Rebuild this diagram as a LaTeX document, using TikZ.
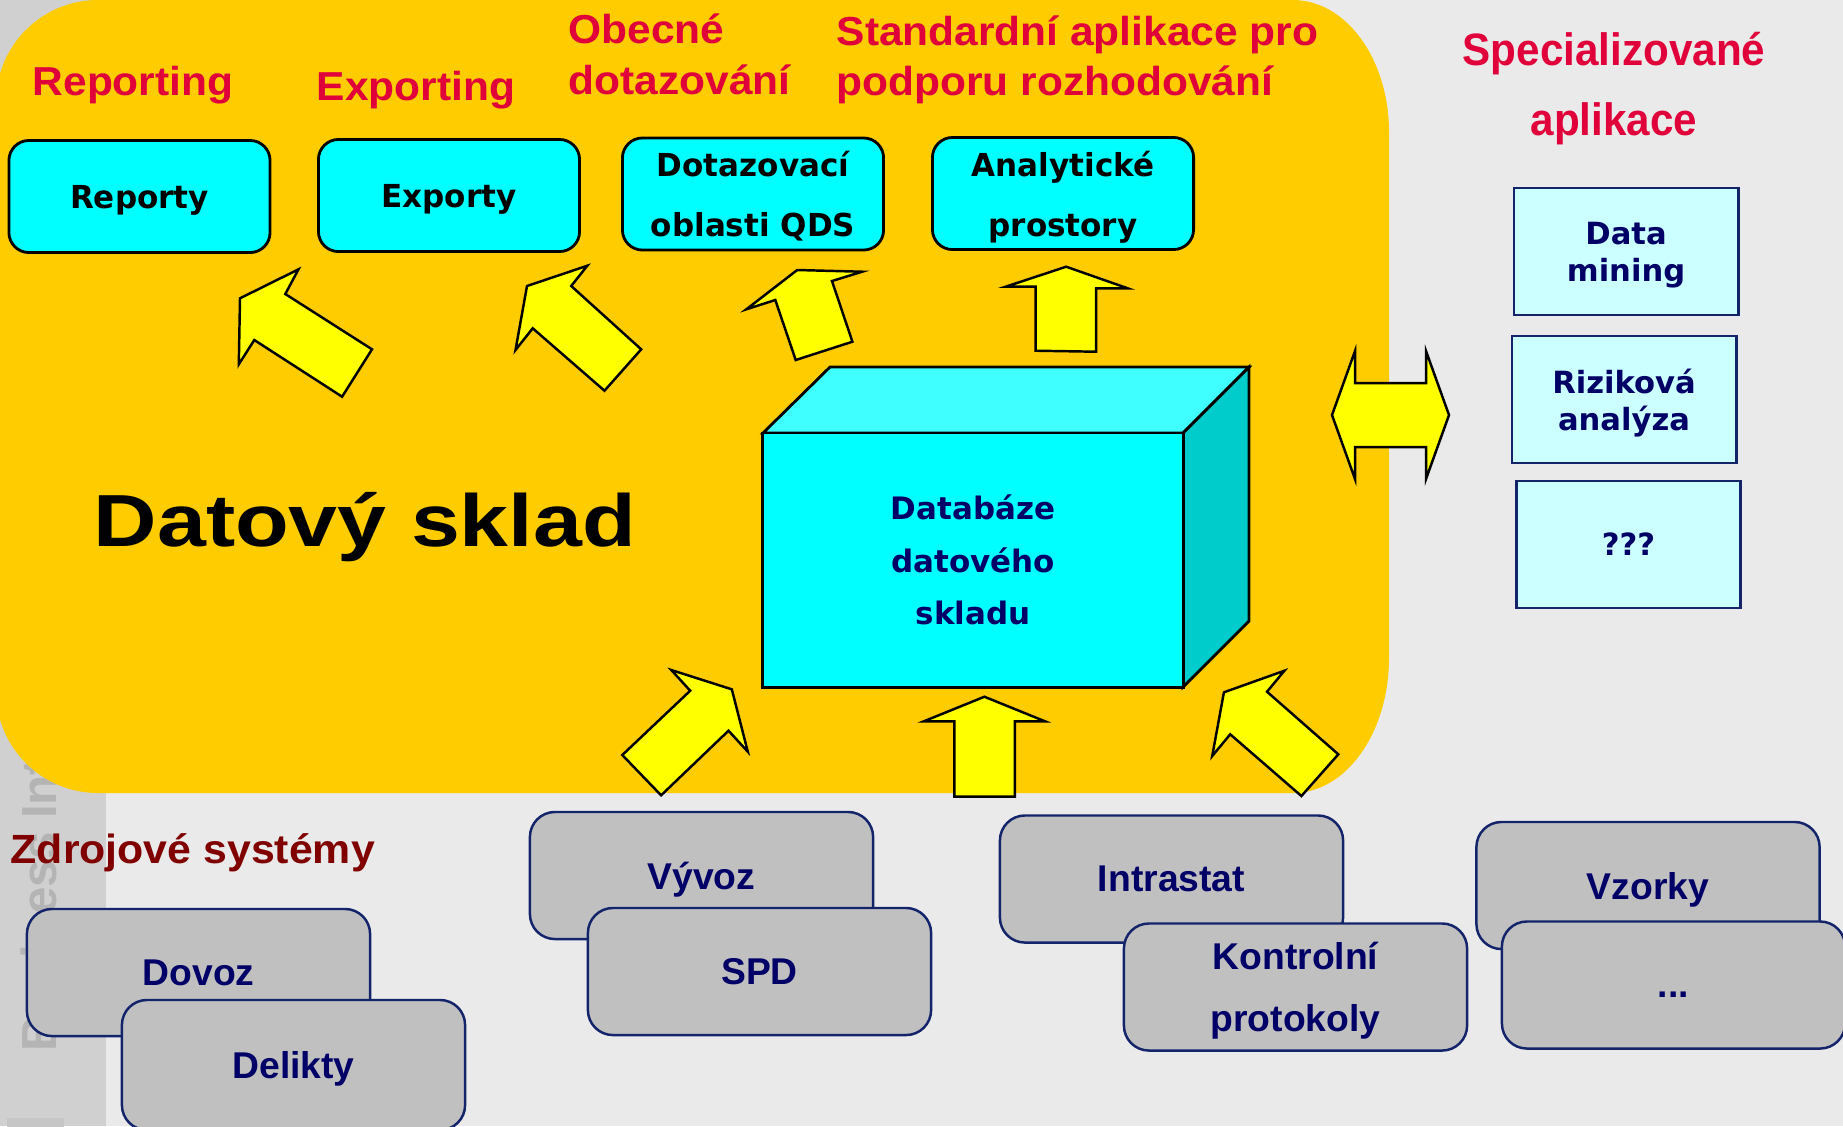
\documentclass[tikz,border=0pt]{standalone}
\usepackage{fontspec}
\usepackage{xcolor}
\usepackage{tikz}

\setmainfont{Liberation Sans}
\newfontfamily\labelfont[FakeStretch=1.05]{Liberation Sans}
\newfontfamily\titlefont[FakeStretch=1.19]{Liberation Sans}
\newfontfamily\specfont[FakeStretch=0.93]{Liberation Sans}
\newfontfamily\srcfont{Liberation Sans}
\newfontfamily\boxfont[FakeStretch=0.98]{DejaVu Sans}
\newfontfamily\dbfont{DejaVu Sans}

\definecolor{pagegray}{HTML}{EAEAEA}
\definecolor{stripgray}{HTML}{D0D0D0}
\definecolor{markgray}{HTML}{B4B4B4}
\definecolor{dwyellow}{HTML}{FFCC00}
\definecolor{arrowyellow}{HTML}{FFFF00}
\definecolor{dwcyan}{HTML}{00FFFF}
\definecolor{topcyan}{HTML}{40FFFF}
\definecolor{sidecyan}{HTML}{00CCCC}
\definecolor{palecyan}{HTML}{CCFFFF}
\definecolor{labelred}{HTML}{E0003A}
\definecolor{srcred}{HTML}{800000}
\definecolor{navytext}{HTML}{000066}
\definecolor{srcgray}{HTML}{C0C0C0}
\definecolor{navyline}{HTML}{14246A}

\begin{document}
\begin{tikzpicture}[x=0.01cm, y=-0.01cm,
    toolbox/.style={draw=black, line width=0.8pt, fill=dwcyan, rounded corners=0.2cm, minimum width=2.61cm, minimum height=1.12cm, inner sep=0pt, text depth=0pt, align=center, font=\boxfont\bfseries\fontsize{9}{17}\selectfont},
    appbox/.style={draw=navyline, line width=0.8pt, fill=palecyan, minimum width=2.24cm, minimum height=1.27cm, inner sep=0pt, text depth=0pt, align=center, text=navytext, font=\dbfont\bfseries\fontsize{8.7}{10.6}\selectfont},
    srcbox/.style={draw=navyline, line width=0.7pt, fill=srcgray, rounded corners=0.25cm, minimum width=3.43cm, minimum height=1.27cm, inner sep=0pt, text depth=0pt, align=center, text=navytext, font=\srcfont\bfseries\fontsize{10.6}{17.5}\selectfont},
    toplabel/.style={text=labelred, inner sep=0pt, font=\labelfont\bfseries\fontsize{11.5}{13}\selectfont},
    blockarrow/.style={draw=black, line width=0.7pt, fill=arrowyellow, line join=miter}]
    \useasboundingbox (0,0) rectangle (1843,1126);
    \clip (0,0) rectangle (1843,1126);

    % Background and side strip
    \fill[pagegray] (0,0) rectangle (1843,1126);
    \fill[stripgray] (0,0) rectangle (106,1126);
    \node[rotate=90, anchor=base west, inner sep=0pt, text=markgray, font=\srcfont\bfseries\fontsize{14}{14}\selectfont] (bimark) at (57,1052) {Business Intelligence};
    \fill[gray!45] (7,1118) rectangle (64,1130);

    % Data warehouse area
    \fill[dwyellow] (-4,102) arc[start angle=180, end angle=270, radius=102]
        -- (1293,0) arc[start angle=270, end angle=360, x radius=96, y radius=132]
        -- (1389,658) arc[start angle=0, end angle=90, x radius=96, y radius=135]
        -- (98,793) arc[start angle=90, end angle=180, radius=102] -- cycle;

    % Labels of the tools
    \node[toplabel, anchor=base] (reporting) at (133,95) {Reporting};
    \node[toplabel, anchor=base] (exporting) at (416,100) {Exporting};
    \node[toplabel, anchor=base west] (obecne) at (568,43) {Obecné};
    \node[toplabel, anchor=base west] (dotazovani) at (568,94) {dotazování};
    \node[toplabel, anchor=base west] (standard) at (836,45) {Standardní aplikace pro};
    \node[toplabel, anchor=base west] (podpora) at (836,95) {podporu rozhodování};

    % Tools
    \node[toolbox] (reporty) at (139.5,196.5) {Reporty};
    \node[toolbox] (exporty) at (449,195.5) {Exporty};
    \node[toolbox] (qds) at (753,194) {Dotazovací\\oblasti QDS};
    \node[toolbox] (prostory) at (1063,193.5) {Analytické\\prostory};

    % Arrows up to the tools
    \draw[blockarrow] (298.5,269.3) -- (240,298.3) -- (238.8,364.3) -- (254.3,340) -- (342.1,396.7) -- (372,349.3) -- (285.3,294) -- cycle;
    \draw[blockarrow] (587.3,265.7) -- (527,286) -- (515.5,350) -- (532.7,328.3) -- (604.5,390.7) -- (641.2,349.3) -- (571.2,286) -- cycle;
    \draw[blockarrow] (862.1,271.7) -- (797.2,270) -- (746.3,309.3) -- (775.3,300) -- (795.7,360) -- (852.4,341.7) -- (832,281) -- cycle;
    \draw[blockarrow] (1066.2,266.7) -- (1005.6,286.7) -- (1035.6,286.7) -- (1035.6,350.7) -- (1096.2,351.7) -- (1096.2,288.3) -- (1127.7,288.3) -- cycle;

    \node[anchor=base west, inner sep=0pt, font=\titlefont\bfseries\fontsize{21}{25}\selectfont] (dwtitle) at (93,546) {Datový sklad};

    % Database cube
    \filldraw[fill=topcyan, draw=black, line width=0.8pt] (763,433) -- (830,367) -- (1249,367) -- (1183,433) -- cycle;
    \filldraw[fill=sidecyan, draw=black, line width=0.8pt] (1183,433) -- (1249,367) -- (1249,621) -- (1183,687) -- cycle;
    \node[draw=black, line width=0.8pt, fill=dwcyan, minimum width=4.2cm, minimum height=2.54cm, inner sep=0pt, align=center, text=navytext, font=\dbfont\bfseries\fontsize{8.8}{14.9}\selectfont] (dbfront) at (973,560) {Databáze\\datového\\skladu};

    % Arrows up from the sources
    \draw[blockarrow] (671.3,670) -- (731.8,689.3) -- (747.8,751.7) -- (728.5,730.7) -- (661.1,795.3) -- (622.3,755) -- (690.2,690.7) -- cycle;
    \draw[blockarrow] (984.4,696.7) -- (923.8,721.3) -- (954.3,721.3) -- (954.3,796.7) -- (1014.9,796.7) -- (1014.9,721.3) -- (1045,721.3) -- cycle;
    \draw[blockarrow] (1284.4,670.7) -- (1223.9,692.3) -- (1212.2,756) -- (1230.2,734.3) -- (1301.4,796) -- (1338.3,754.3) -- (1267,691.7) -- cycle;

    % Specialised applications
    \draw[blockarrow] (1332,415) -- (1355,351) -- (1355,383) -- (1426,383) -- (1426,351) -- (1449,415) -- (1426,479) -- (1426,447) -- (1355,447) -- (1355,479) -- cycle;
    \node[anchor=base, inner sep=0pt, text=labelred, font=\specfont\bfseries\fontsize{12.9}{15}\selectfont] (special) at (1614,65) {Specializované};
    \node[anchor=base, inner sep=0pt, text=labelred, font=\specfont\bfseries\fontsize{12.9}{15}\selectfont] (aplikace) at (1614,135) {aplikace};
    \node[appbox] (mining) at (1626,251.5) {Data\\mining};
    \node[appbox] (riziko) at (1624,399.5) {Riziková\\analýza};
    \node[appbox] (dalsi) at (1628.5,544.5) {???};

    % Source systems
    \node[anchor=base west, inner sep=0pt, text=srcred, font=\labelfont\bfseries\fontsize{11.6}{13}\selectfont] (zdroje) at (10,863) {Zdrojové systémy};
    \node[srcbox] (dovoz) at (198.5,972.5) {Dovoz};
    \node[srcbox, minimum height=1.3cm] (delikty) at (293.5,1065) {Delikty};
    \node[srcbox] (vyvoz) at (701.5,875.5) {Vývoz};
    \node[srcbox] (spd) at (759.5,971.5) {SPD};
    \node[srcbox] (intrastat) at (1171.5,879) {Intrastat};
    \node[srcbox] (protokoly) at (1295.5,987) {Kontrolní\\protokoly};
    \node[srcbox] (vzorky) at (1648,885.5) {Vzorky};
    \node[srcbox] (ostatni) at (1673.5,985) {\vphantom{D}...};
\end{tikzpicture}
\end{document}
